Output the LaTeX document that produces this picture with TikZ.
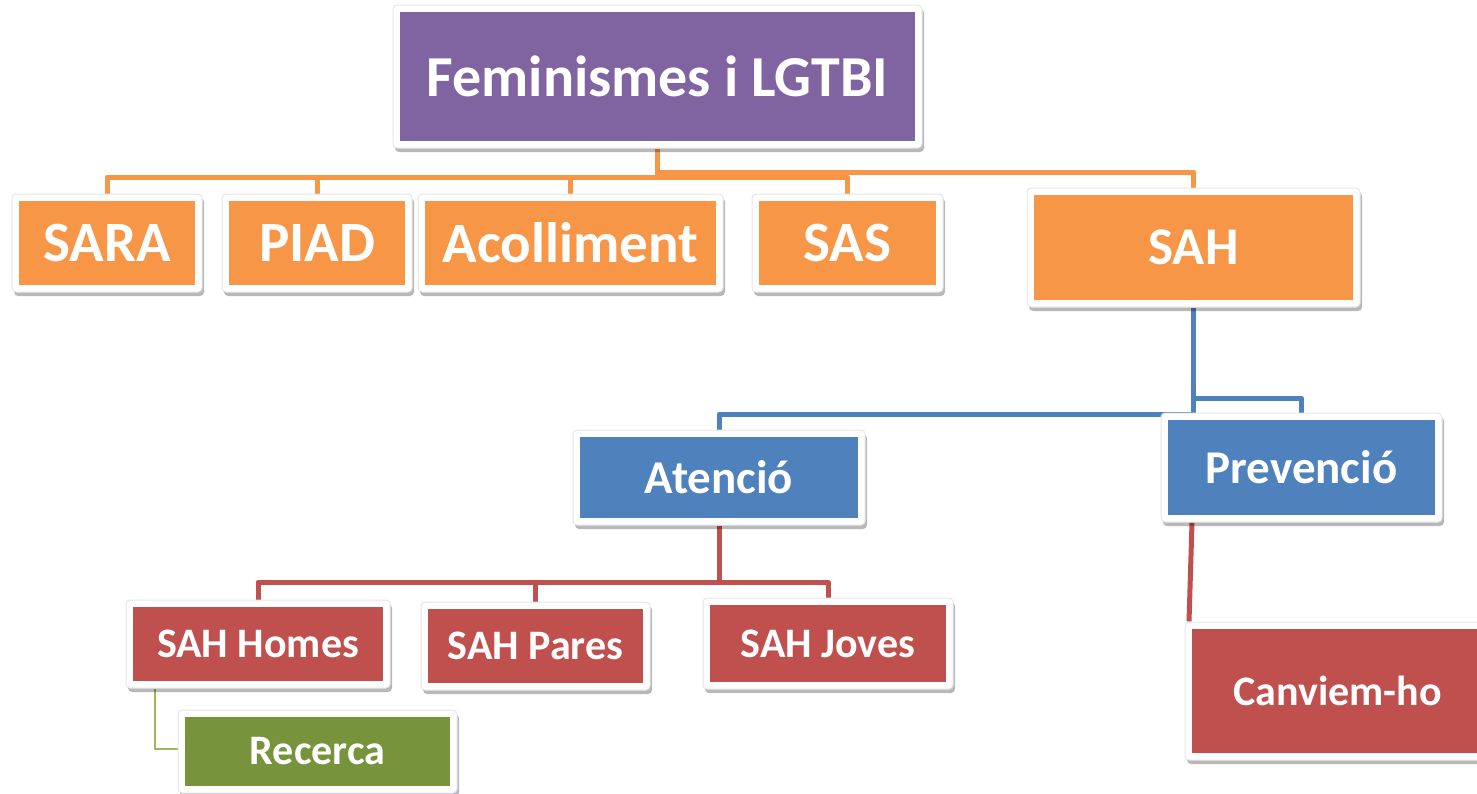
\documentclass[tikz,border=0pt]{standalone}
\usepackage{fontspec}
\setmainfont{Carlito}
\usetikzlibrary{shadows,backgrounds}
\definecolor{cpurple}{HTML}{8064A2}
\definecolor{corange}{HTML}{F79646}
\definecolor{cblue}{HTML}{4F81BD}
\definecolor{cred}{HTML}{C0504D}
\definecolor{cgreen}{HTML}{77933C}
\definecolor{lgreen}{HTML}{9BBB59}
\tikzset{
  box/.style={fill=white, draw=black!10, line width=0.5pt, rounded corners=2pt, inner sep=0pt,
    text=white, font=\bfseries,
    drop shadow={shadow xshift=1pt, shadow yshift=-2pt, opacity=.28, fill=black},
    path picture={\fill[#1, sharp corners] ([xshift=3.5pt,yshift=-3.5pt]path picture bounding box.north west) rectangle ([xshift=-3.5pt,yshift=3.5pt]path picture bounding box.south east);}},
  conn/.style={line width=2.5pt, line join=round},
  fA/.style={font=\bfseries\fontsize{29}{32}\selectfont},
  fB/.style={font=\bfseries\fontsize{28.5}{31}\selectfont},
  fC/.style={font=\bfseries\fontsize{23.5}{26}\selectfont},
  fD/.style={font=\bfseries\fontsize{21}{24}\selectfont},
}
\begin{document}
\begin{tikzpicture}[x=0.5pt,y=-0.5pt]
\useasboundingbox (0,0) rectangle (1477,793);
% nodes
\node[box=cpurple, fA, minimum width=264.5pt, minimum height=71.5pt] (root) at (657.5,76.5) {Feminismes i LGTBI};
\node[box=corange, fB, minimum width=95pt, minimum height=49pt] (sara) at (107,243) {SARA};
\node[box=corange, fB, minimum width=95pt, minimum height=49pt] (piad) at (317,243) {PIAD};
\node[box=corange, fB, minimum width=152.5pt, minimum height=49pt] (acoll) at (570.5,243) {Acolliment};
\node[box=corange, fB, minimum width=95.5pt, minimum height=49pt] (sas) at (847.5,243) {SAS};
\node[box=corange, font=\bfseries\fontsize{26.5}{29}\selectfont, minimum width=166.5pt, minimum height=59.5pt] (sah) at (1193.5,247.5) {SAH};
\node[box=cblue, fC, minimum width=146pt, minimum height=47.5pt] (aten) at (719,477.5) {Atenció};
\node[box=cblue, fC, minimum width=140.5pt, minimum height=54.5pt] (prev) at (1301.5,467.5) {Prevenció};
\node[box=cred, fD, minimum width=132pt, minimum height=44pt] (homes) at (258,644) {SAH Homes};
\node[box=cred, fD, minimum width=114.5pt, minimum height=44pt] (pares) at (535.5,646) {SAH Pares};
\node[box=cred, fD, minimum width=125pt, minimum height=45.5pt] (joves) at (828,643.5) {SAH Joves};
\node[box=cgreen, fD, minimum width=139.5pt, minimum height=41.5pt] (rec) at (317.5,751.5) {Recerca};
\node[box=cred, fD, minimum width=152.5pt, minimum height=69pt] (canv) at (1337.5,691) {Canviem-ho};
% level coordinates
\coordinate (ylo) at (0,177);
\coordinate (yhi) at (0,172);
\coordinate (yprev) at (0,398);
\coordinate (yaten) at (0,414);
\coordinate (yred) at (0,582);
\coordinate (ygreen) at (0,749);
\coordinate (xgreen) at (155,0);
\coordinate (prevout) at (1192,0);
\coordinate (canvin) at (1189,0);
% connectors
\begin{pgfonlayer}{background}
\draw[conn, corange] (root.south) -- (root.south |- ylo) -- (sara.north |- ylo) -- (sara.north);
\draw[conn, corange] (piad.north |- ylo) -- (piad.north);
\draw[conn, corange] (acoll.north |- ylo) -- (acoll.north);
\draw[conn, corange] (root.south |- ylo) -- (sas.north |- ylo) -- (sas.north);
\draw[conn, corange] (root.south |- yhi) -- (sah.north |- yhi) -- (sah.north);
\draw[conn, cblue] (sah.south) -- (sah.south |- yaten) -- (aten.north |- yaten) -- (aten.north);
\draw[conn, cblue] (sah.south |- yprev) -- (prev.north |- yprev) -- (prev.north);
\draw[conn, cred] (aten.south) -- (aten.south |- yred) -- (homes.north |- yred) -- (homes.north);
\draw[conn, cred] (pares.north |- yred) -- (pares.north);
\draw[conn, cred] (aten.south |- yred) -- (joves.north |- yred) -- (joves.north);
\draw[conn, cred] (prevout |- prev.south) -- (canvin |- canv.north);
\draw[line width=1pt, lgreen] (xgreen |- homes.south) -- (xgreen |- ygreen) -- (rec.west |- ygreen);
\end{pgfonlayer}
\end{tikzpicture}
\end{document}
